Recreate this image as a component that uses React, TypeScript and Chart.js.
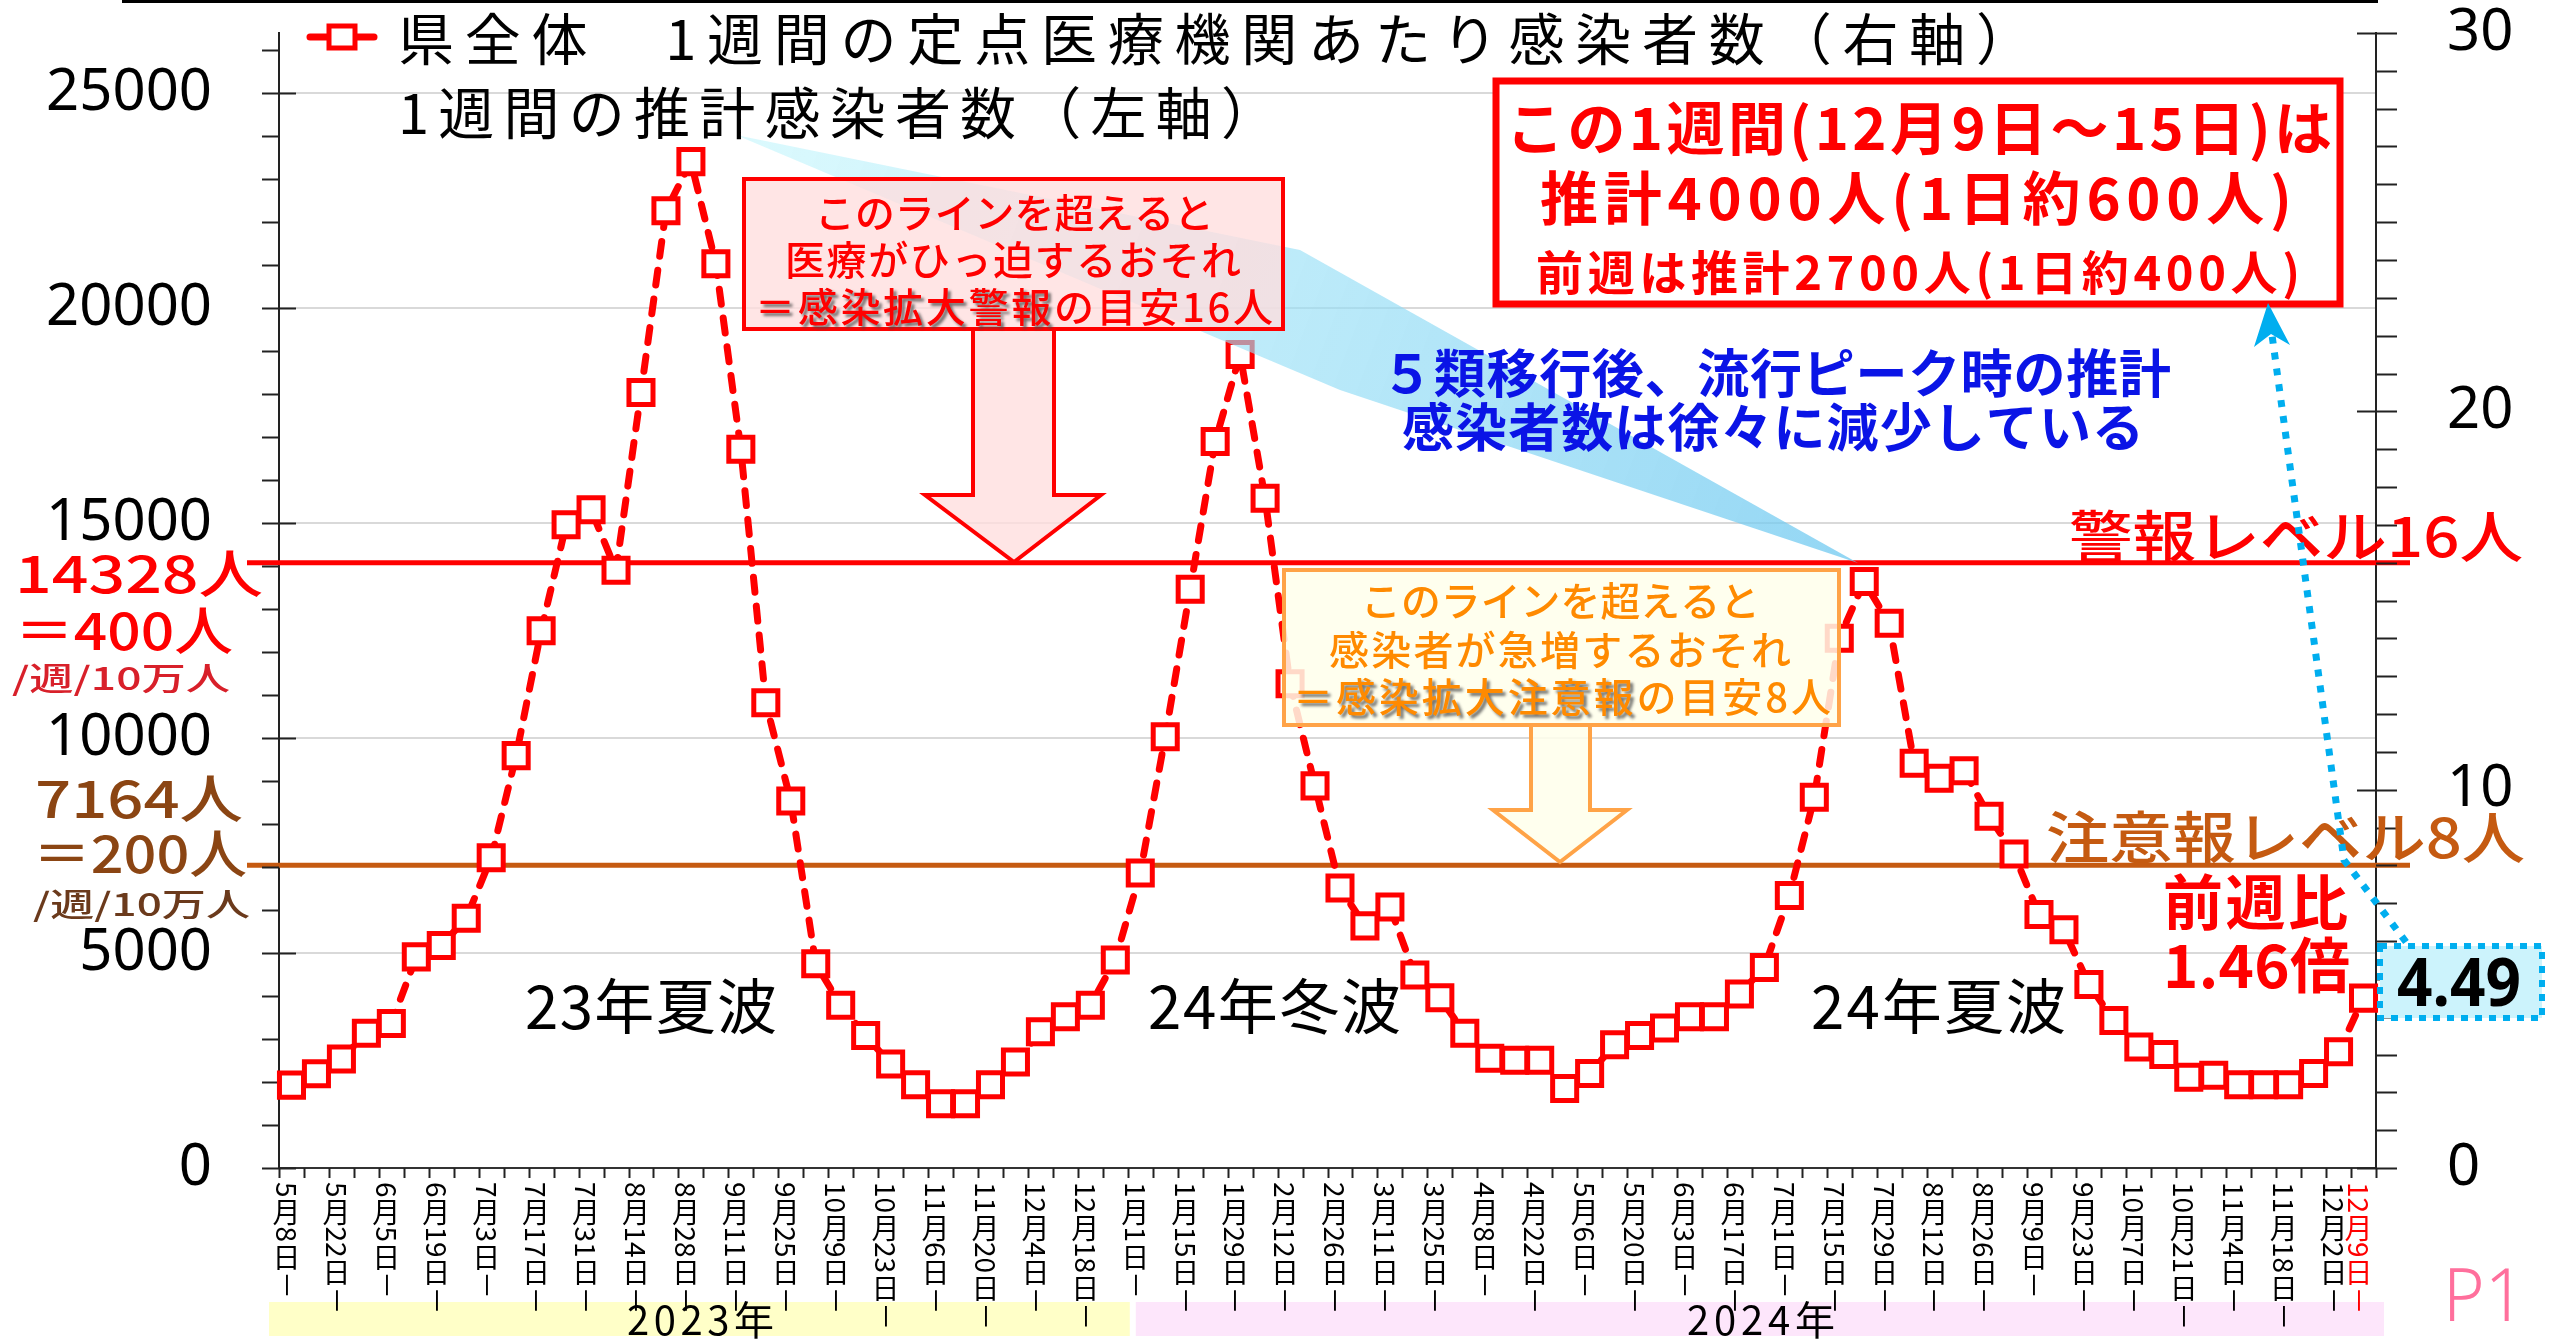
import React, { useEffect, useRef } from 'react';
import { Chart, registerables } from 'chart.js';

Chart.register(...registerables);

// ---------- data ----------
const WEEK_LABELS = [
  '5月8日', '5月15日', '5月22日', '5月29日', '6月5日', '6月12日', '6月19日', '6月26日',
  '7月3日', '7月10日', '7月17日', '7月24日', '7月31日', '8月7日', '8月14日', '8月21日',
  '8月28日', '9月4日', '9月11日', '9月18日', '9月25日', '10月2日', '10月9日', '10月16日',
  '10月23日', '10月30日', '11月6日', '11月13日', '11月20日', '11月27日', '12月4日', '12月11日',
  '12月18日', '12月25日',
  '1月1日', '1月8日', '1月15日', '1月22日', '1月29日', '2月5日', '2月12日', '2月19日',
  '2月26日', '3月4日', '3月11日', '3月18日', '3月25日', '4月1日', '4月8日', '4月15日',
  '4月22日', '4月29日', '5月6日', '5月13日', '5月20日', '5月27日', '6月3日', '6月10日',
  '6月17日', '6月24日', '7月1日', '7月8日', '7月15日', '7月22日', '7月29日', '8月5日',
  '8月12日', '8月19日', '8月26日', '9月2日', '9月9日', '9月16日', '9月23日', '9月30日',
  '10月7日', '10月14日', '10月21日', '10月28日', '11月4日', '11月11日', '11月18日', '11月25日',
  '12月2日', '12月9日',
];

// 1週間の定点医療機関あたり感染者数（右軸）
const PER_SENTINEL = [
  2.19, 2.49, 2.88, 3.56, 3.82, 5.58, 5.88, 6.6, 8.2, 10.9, 14.2, 17.0, 17.4, 15.8, 20.5, 25.3,
  26.6, 23.9, 19.0, 12.3, 9.7, 5.4, 4.3, 3.5, 2.75, 2.2, 1.7, 1.7, 2.2, 2.8, 3.6, 4.0,
  4.3, 5.5,
  7.8, 11.4, 15.3, 19.2, 21.5, 17.7, 12.8, 10.1, 7.4, 6.4, 6.9, 5.1, 4.5, 3.56, 2.9, 2.85,
  2.85, 2.1, 2.5, 3.26, 3.5, 3.7, 4.0, 4.0, 4.6, 5.3, 7.2, 9.8, 14.0, 15.5, 14.4, 10.7,
  10.3, 10.5, 9.3, 8.3, 6.7, 6.3, 4.85, 3.9, 3.2, 3.0, 2.4, 2.45, 2.2, 2.2, 2.2, 2.5,
  3.07, 4.49,
];

const LEFT_TICKS = [0, 5000, 10000, 15000, 20000, 25000];
const RIGHT_TICKS = [0, 10, 20, 30];
const LEFT_MAX = 26400;
const RIGHT_MAX = 30;
const WARNING_LEVEL = 16;
const ADVISORY_LEVEL = 8;
const YEARS = ['2023年', '2024年'];
const YEAR_START_INDEX = [0, 34];

// ---------- helpers ----------
const JP = '"Noto Sans CJK JP", "Noto Sans", sans-serif';
const LAT = '"Noto Sans", "DejaVu Sans", sans-serif';

type FitOpts = {
  font: string;
  color: string;
  shadow?: number;
  shadowColor?: string;
  scale?: boolean;
};

function fitText(ctx: CanvasRenderingContext2D, text: string, x1: number, x2: number, cy: number, o: FitOpts) {
  const chars = Array.from(text);
  ctx.save();
  ctx.font = o.font;
  ctx.textBaseline = 'middle';
  ctx.textAlign = 'left';
  const ws = chars.map((c) => ctx.measureText(c).width);
  const nat = ws.reduce((a, b) => a + b, 0);
  const target = x2 - x1;
  const s = o.scale ? target / nat : nat > target ? target / nat : 1;
  const extra = !o.scale && nat < target && chars.length > 1 ? (target - nat) / (chars.length - 1) : 0;
  ctx.translate(x1, cy);
  ctx.scale(s, 1);
  let x = 0;
  chars.forEach((c, i) => {
    if (o.shadow && i < o.shadow) {
      ctx.shadowColor = o.shadowColor || 'rgba(70,70,70,0.75)';
      ctx.shadowOffsetX = 3;
      ctx.shadowOffsetY = 3;
      ctx.shadowBlur = 3;
    } else {
      ctx.shadowColor = 'rgba(0,0,0,0)';
      ctx.shadowOffsetX = 0;
      ctx.shadowOffsetY = 0;
      ctx.shadowBlur = 0;
    }
    ctx.fillStyle = o.color;
    ctx.fillText(c, x, 0);
    x += ws[i] + extra;
  });
  ctx.restore();
}

function drawVerticalLabel(ctx: CanvasRenderingContext2D, label: string, cx: number, top: number, size: number, color: string) {
  const tokens = label.match(/[0-9]+|[－-]|./gu) || [];
  ctx.save();
  ctx.font = `${size}px ${JP}`;
  ctx.fillStyle = color;
  ctx.textBaseline = 'middle';
  let y = top;
  tokens.forEach((t) => {
    if (/^[0-9]+$/.test(t) || t === '－' || t === '-') {
      const w = ctx.measureText(t).width;
      ctx.save();
      ctx.translate(cx, y);
      ctx.rotate(Math.PI / 2);
      ctx.textAlign = 'left';
      ctx.fillText(t, 0, 0);
      ctx.restore();
      y += w + 1;
    } else {
      ctx.textAlign = 'center';
      ctx.fillText(t, cx, y + size / 2);
      y += size;
    }
  });
  ctx.restore();
}

function polygon(ctx: CanvasRenderingContext2D, pts: number[][]) {
  ctx.beginPath();
  pts.forEach((p, i) => (i ? ctx.lineTo(p[0], p[1]) : ctx.moveTo(p[0], p[1])));
  ctx.closePath();
}

function arrowBox(ctx: CanvasRenderingContext2D, pts: number[][]) {
  ctx.beginPath();
  pts.forEach((p, i) => (i ? ctx.lineTo(p[0], p[1]) : ctx.moveTo(p[0], p[1])));
  ctx.fill();
  ctx.stroke();
}

// ---------- plugin ----------
const overlayPlugin = {
  id: 'overlay',
  beforeDatasetsDraw(chart: any) {
    const ctx: CanvasRenderingContext2D = chart.ctx;
    const x = chart.scales.x;
    const yL = chart.scales.y;
    const yR = chart.scales.y1;
    const area = chart.chartArea;

    ctx.save();
    // top black line
    ctx.fillStyle = '#000';
    ctx.fillRect(122, 0, 2256, 3);

    // level lines
    ctx.lineWidth = 5;
    ctx.strokeStyle = '#FF0000';
    const yw = yR.getPixelForValue(WARNING_LEVEL);
    ctx.beginPath();
    ctx.moveTo(247, yw);
    ctx.lineTo(2410, yw);
    ctx.stroke();
    ctx.strokeStyle = '#C55A11';
    const ya = yR.getPixelForValue(ADVISORY_LEVEL);
    ctx.beginPath();
    ctx.moveTo(247, ya);
    ctx.lineTo(2410, ya);
    ctx.stroke();

    // axis tick marks
    ctx.strokeStyle = '#222';
    ctx.lineWidth = 2;
    for (let v = 0; v <= 26000; v += 1000) {
      const py = Math.round(yL.getPixelForValue(v)) + 0.5;
      const major = v % 5000 === 0;
      ctx.beginPath();
      ctx.moveTo(area.left - 17, py);
      ctx.lineTo(major ? area.left + 17 : area.left, py);
      ctx.stroke();
    }
    for (let v = 0; v <= RIGHT_MAX; v += 1) {
      const py = Math.round(yR.getPixelForValue(v)) + 0.5;
      const major = v % 10 === 0;
      ctx.beginPath();
      ctx.moveTo(major ? area.right - 19 : area.right, py);
      ctx.lineTo(area.right + 21, py);
      ctx.stroke();
    }
    const n = WEEK_LABELS.length;
    const step = (area.right - area.left) / n;
    for (let i = 0; i <= n; i++) {
      const px = Math.round(x.getPixelForValue(0) - step / 2 + i * step) + 0.5;
      ctx.beginPath();
      ctx.moveTo(px, area.bottom);
      ctx.lineTo(px, area.bottom + 10);
      ctx.stroke();
    }

    // year bands
    const bandColors = ['#FFFFC8', '#FDE6FB'];
    const bx = [
      [area.left - 10, x.getPixelForValue(YEAR_START_INDEX[1]) - step / 2 + 2],
      [x.getPixelForValue(YEAR_START_INDEX[1]) - step / 2 + 8, area.right + 8],
    ];
    bx.forEach((b, i) => {
      ctx.fillStyle = bandColors[i];
      ctx.fillRect(b[0], 1302, b[1] - b[0], 34);
    });

    // x labels (vertical writing)
    WEEK_LABELS.forEach((lab, i) => {
      const last = i === n - 1;
      if (i % 2 !== 0 && !last) return;
      drawVerticalLabel(ctx, lab + '－', x.getPixelForValue(i) - 5, 1182, 28, last ? '#FF0000' : '#000');
    });

    // year texts
    fitText(ctx, YEARS[0], 627, 774, 1320, { font: `40px ${JP}`, color: '#000' });
    fitText(ctx, YEARS[1], 1687, 1835, 1320, { font: `40px ${JP}`, color: '#000' });

    ctx.restore();
  },
  afterDatasetsDraw(chart: any) {
    const ctx: CanvasRenderingContext2D = chart.ctx;
    ctx.save();

    // cyan callout band
    const g = ctx.createLinearGradient(736, 135, 1858, 563);
    g.addColorStop(0, 'rgba(190,245,252,0.55)');
    g.addColorStop(1, 'rgba(110,200,240,0.75)');
    ctx.fillStyle = g;
    polygon(ctx, [[736, 135], [1300, 250], [1858, 563], [1340, 390]]);
    ctx.fill();

    // red box + arrow
    ctx.lineJoin = 'miter';
    ctx.fillStyle = 'rgba(255,222,222,0.78)';
    ctx.strokeStyle = '#FF0000';
    ctx.lineWidth = 4;
    ctx.fillRect(744, 179, 539, 150);
    ctx.strokeRect(744, 179, 539, 150);
    arrowBox(ctx, [[973, 331], [973, 495], [925, 495], [1014, 562], [1101, 495], [1054, 495], [1054, 331]]);
    fitText(ctx, 'このラインを超えると', 815, 1214, 213, { font: `500 40px ${JP}`, color: '#FF0000' });
    fitText(ctx, '医療がひっ迫するおそれ', 785, 1241, 260, { font: `500 40px ${JP}`, color: '#FF0000' });
    fitText(ctx, '＝感染拡大警報の目安16人', 755, 1273, 307, { font: `500 40px ${JP}`, color: '#FF0000', shadow: 7 });

    // orange box + arrow
    ctx.fillStyle = 'rgba(255,255,235,0.85)';
    ctx.strokeStyle = '#FFA347';
    ctx.fillRect(1284, 570, 555, 155);
    ctx.strokeRect(1284, 570, 555, 155);
    arrowBox(ctx, [[1531, 727], [1531, 810], [1493, 810], [1560, 862], [1627, 810], [1590, 810], [1590, 727]]);
    fitText(ctx, 'このラインを超えると', 1361, 1760, 601, { font: `500 40px ${JP}`, color: '#FF8A00' });
    fitText(ctx, '感染者が急増するおそれ', 1329, 1791, 650, { font: `500 40px ${JP}`, color: '#FF8A00' });
    fitText(ctx, '＝感染拡大注意報の目安8人', 1293, 1831, 697, { font: `500 40px ${JP}`, color: '#FF8A00', shadow: 8 });

    // legend
    ctx.strokeStyle = '#FF0000';
    ctx.lineWidth = 7;
    ctx.lineCap = 'round';
    ctx.beginPath();
    ctx.moveTo(310, 37);
    ctx.lineTo(374, 37);
    ctx.stroke();
    ctx.lineCap = 'butt';
    ctx.fillStyle = '#fff';
    ctx.lineWidth = 5;
    ctx.fillRect(329, 26, 26, 22);
    ctx.strokeRect(329, 26, 26, 22);
    fitText(ctx, '県全体　1週間の定点医療機関あたり感染者数（右軸）', 398, 2032, 39, { font: `56px ${JP}`, color: '#000' });
    fitText(ctx, '1週間の推計感染者数（左軸）', 398, 1277, 113, { font: `56px ${JP}`, color: '#000' });

    // top right box
    ctx.fillStyle = '#fff';
    ctx.strokeStyle = '#FF0000';
    ctx.lineWidth = 7;
    ctx.fillRect(1496, 81, 844, 223);
    ctx.strokeRect(1496, 81, 844, 223);
    fitText(ctx, 'この1週間(12月9日～15日)は', 1506, 2332, 128, { font: `700 58px ${JP}`, color: '#FF0000' });
    fitText(ctx, '推計4000人(1日約600人)', 1540, 2292, 198, { font: `700 58px ${JP}`, color: '#FF0000' });
    fitText(ctx, '前週は推計2700人(1日約400人)', 1536, 2300, 272, { font: `700 47px ${JP}`, color: '#FF0000' });

    // blue text
    fitText(ctx, '５類移行後、流行ピーク時の推計', 1381, 2171, 373, { font: `700 52px ${JP}`, color: '#0A14E6' });
    fitText(ctx, '感染者数は徐々に減少している', 1402, 2144, 427, { font: `700 52px ${JP}`, color: '#0A14E6' });

    // level labels
    fitText(ctx, '警報レベル16人', 2069, 2523, 536, { font: `500 56px ${JP}`, color: '#FF0000', scale: true });
    fitText(ctx, '注意報レベル8人', 2046, 2525, 837, { font: `500 56px ${JP}`, color: '#C55A11', scale: true });

    // left side labels
    fitText(ctx, '14328人', 15, 263, 573, { font: `500 52px ${JP}`, color: '#FF0000', scale: true });
    fitText(ctx, '＝400人', 15, 233, 630, { font: `500 52px ${JP}`, color: '#FF0000', scale: true });
    fitText(ctx, '/週/10万人', 12, 230, 678, { font: `500 32px ${JP}`, color: '#D8202A', scale: true });
    fitText(ctx, '7164人', 35, 243, 798, { font: `500 52px ${JP}`, color: '#8B4513', scale: true });
    fitText(ctx, '＝200人', 33, 247, 853, { font: `500 52px ${JP}`, color: '#8B4513', scale: true });
    fitText(ctx, '/週/10万人', 33, 250, 904, { font: `500 32px ${JP}`, color: '#6B3A1C', scale: true });

    // wave labels
    fitText(ctx, '23年夏波', 525, 777, 1006, { font: `60px ${JP}`, color: '#000' });
    fitText(ctx, '24年冬波', 1148, 1401, 1006, { font: `60px ${JP}`, color: '#000' });
    fitText(ctx, '24年夏波', 1811, 2066, 1006, { font: `60px ${JP}`, color: '#000' });

    // week-on-week ratio
    fitText(ctx, '前週比', 2163, 2348, 902, { font: `700 60px ${JP}`, color: '#FF0000' });
    fitText(ctx, '1.46倍', 2163, 2350, 965, { font: `700 60px ${JP}`, color: '#FF0000' });

    // dotted pointer
    ctx.strokeStyle = '#00AEEF';
    ctx.lineWidth = 7;
    ctx.setLineDash([7, 9]);
    ctx.beginPath();
    ctx.moveTo(2406, 942);
    ctx.lineTo(2344, 860);
    ctx.lineTo(2272, 335);
    ctx.stroke();
    ctx.setLineDash([]);
    ctx.fillStyle = '#00AEEF';
    polygon(ctx, [[2268, 303], [2290, 345], [2271, 334], [2254, 347]]);
    ctx.fill();

    // value box
    ctx.fillStyle = '#CCF3FC';
    ctx.fillRect(2380, 946, 162, 72);
    ctx.setLineDash([7, 7]);
    ctx.lineWidth = 6;
    ctx.strokeRect(2380, 946, 162, 72);
    ctx.setLineDash([]);
    fitText(ctx, '4.49', 2397, 2521, 987, { font: `700 66px ${LAT}`, color: '#000' });

    // P1
    fitText(ctx, 'P1', 2443, 2525, 1300, { font: `300 74px ${LAT}`, color: '#FF6F9C', scale: true });

    ctx.restore();
  },
};

export default function App() {
  const ref = useRef<HTMLCanvasElement | null>(null);
  useEffect(() => {
    document.body.style.margin = '0';
    const canvas = ref.current;
    if (!canvas) return;
    const noPad = (s: any) => {
      s.paddingTop = 0;
      s.paddingBottom = 0;
    };
    const chart = new Chart(canvas, {
      type: 'line',
      data: {
        labels: WEEK_LABELS,
        datasets: [
          {
            label: '県全体　1週間の定点医療機関あたり感染者数（右軸）',
            data: PER_SENTINEL,
            yAxisID: 'y1',
            borderColor: '#FF0000',
            borderWidth: 7,
            borderDash: [15, 14],
            borderCapStyle: 'round',
            pointStyle: 'rect',
            pointRadius: 17,
            pointBorderWidth: 5,
            pointBorderColor: '#FF0000',
            pointBackgroundColor: '#FFFFFF',
            tension: 0,
            fill: false,
          } as any,
        ],
      },
      options: {
        responsive: false,
        devicePixelRatio: 1,
        animation: false,
        events: [],
        layout: { padding: { top: 33, left: 0, right: 0, bottom: 0 } },
        plugins: { legend: { display: false }, tooltip: { enabled: false } },
        scales: {
          x: {
            type: 'category',
            offset: true,
            grid: { display: false, offset: true },
            border: { display: true, color: '#333', width: 2 },
            ticks: { display: false },
            afterFit: (s: any) => {
              s.height = 1343 - 1168;
              s.paddingLeft = 0;
              s.paddingRight = 0;
            },
          },
          y: {
            type: 'linear',
            position: 'left',
            min: 0,
            max: LEFT_MAX,
            afterBuildTicks: (s: any) => {
              s.ticks = LEFT_TICKS.map((v) => ({ value: v }));
            },
            grid: { color: '#D9D9D9', lineWidth: 2, drawTicks: false },
            border: { display: true, color: '#222', width: 2 },
            ticks: {
              padding: 67,
              color: '#000',
              font: { family: 'Noto Sans', size: 58, lineHeight: 1 },
              callback: (v: any) => String(v),
            },
            afterFit: (s: any) => {
              s.width = 279;
              noPad(s);
            },
          },
          y1: {
            type: 'linear',
            position: 'right',
            min: 0,
            max: RIGHT_MAX,
            afterBuildTicks: (s: any) => {
              s.ticks = RIGHT_TICKS.map((v) => ({ value: v }));
            },
            grid: { drawOnChartArea: false, drawTicks: false },
            border: { display: true, color: '#222', width: 2 },
            ticks: {
              padding: 71,
              color: '#000',
              font: { family: 'Noto Sans', size: 58, lineHeight: 1 },
              callback: (v: any) => String(v),
            },
            afterFit: (s: any) => {
              s.width = 2554 - 2376;
              noPad(s);
            },
          },
        },
      },
      plugins: [overlayPlugin],
    } as any);
    return () => chart.destroy();
  }, []);
  return (
    <div style={{ width: 2554, height: 1343, background: '#fff' }}>
      <canvas ref={ref} width={2554} height={1343} style={{ display: 'block', width: 2554, height: 1343 }} />
    </div>
  );
}
